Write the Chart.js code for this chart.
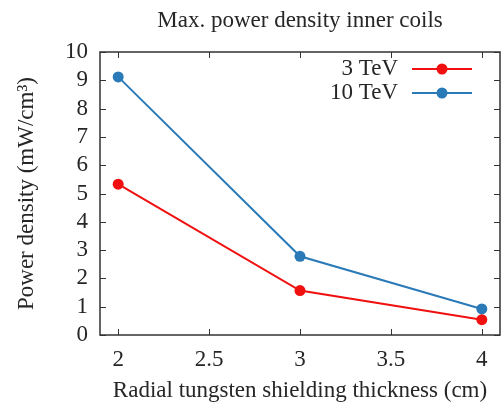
<!DOCTYPE html>
<html lang="en">
<head>
  <meta charset="UTF-8">
  <title>Max. power density inner coils</title>
  <script src="https://cdn.jsdelivr.net/npm/chart.js"></script>
  <style>
    html, body { margin: 0; padding: 0; background: #fff; }
    .chart-box { width: 501px; height: 405px; }
  </style>
</head>
<body>
<div class="chart-box">
  <canvas id="myChart" width="501" height="405"></canvas>
</div>
<script>
  // data
  const thickness = [2, 3, 4];
  const tev3 = [5.33, 1.57, 0.54];
  const tev10 = [9.12, 2.78, 0.92];
  const xTicks = [2, 2.5, 3, 3.5, 4];
  const yTicks = [0, 1, 2, 3, 4, 5, 6, 7, 8, 9, 10];
  const seriesNames = ['3 TeV', '10 TeV'];

  const textColor = '#262626';
  const serif = "'Liberation Serif', 'DejaVu Serif', serif";

  const toPoints = (ys) => thickness.map((x, i) => ({ x: x, y: ys[i] }));

  // gnuplot-like frame: inward ticks on all sides, title and legend
  const framePlugin = {
    id: 'frame',
    afterDraw(chart) {
      const c = chart.ctx;
      const a = chart.chartArea;
      const xs = chart.scales.x;
      const ys = chart.scales.y;
      const len = 6;
      c.save();
      c.strokeStyle = '#333';
      c.lineWidth = 1.5;
      c.strokeRect(a.left, a.top, a.right - a.left, a.bottom - a.top);
      c.lineWidth = 1;
      c.beginPath();
      xTicks.forEach(v => {
        const px = Math.round(xs.getPixelForValue(v)) + 0.5;
        c.moveTo(px, a.bottom); c.lineTo(px, a.bottom - len);
        c.moveTo(px, a.top); c.lineTo(px, a.top + len);
      });
      yTicks.forEach(v => {
        const py = Math.round(ys.getPixelForValue(v)) + 0.5;
        c.moveTo(a.left, py); c.lineTo(a.left + len, py);
        c.moveTo(a.right, py); c.lineTo(a.right - len, py);
      });
      c.stroke();

      // title centred over the plot area
      c.fillStyle = textColor;
      c.font = '23px ' + serif;
      c.textAlign = 'center';
      c.textBaseline = 'middle';
      c.fillText('Max. power density inner coils', (a.left + a.right) / 2, 21);

      // legend, text on the left and line sample on the right
      c.textAlign = 'right';
      chart.data.datasets.forEach((ds, i) => {
        const y = a.top + 17 + i * 24;
        c.fillStyle = textColor;
        c.fillText(ds.label, a.right - 102, y);
        c.strokeStyle = ds.borderColor;
        c.lineWidth = 2;
        c.beginPath();
        c.moveTo(a.right - 88, y);
        c.lineTo(a.right - 28, y);
        c.stroke();
        c.fillStyle = ds.borderColor;
        c.beginPath();
        c.arc(a.right - 58, y, 5.5, 0, Math.PI * 2);
        c.fill();
      });
      c.restore();
    }
  };

  const ctx = document.getElementById('myChart').getContext('2d');
  const myChart = new Chart(ctx, {
    type: 'line',
    data: {
      datasets: [
        {
          label: seriesNames[0],
          data: toPoints(tev3),
          borderColor: '#f01010',
          backgroundColor: '#f01010',
          borderWidth: 2,
          pointRadius: 5.5,
          pointBorderWidth: 0,
          fill: false
        },
        {
          label: seriesNames[1],
          data: toPoints(tev10),
          borderColor: '#2a7ab8',
          backgroundColor: '#2a7ab8',
          borderWidth: 2,
          pointRadius: 5.5,
          pointBorderWidth: 0,
          fill: false
        }
      ]
    },
    options: {
      responsive: false,
      animation: false,
      layout: { autoPadding: false, padding: { left: 0, right: 1, top: 52, bottom: 0 } },
      plugins: {
        legend: { display: false },
        title: { display: false },
        tooltip: { enabled: false }
      },
      scales: {
        x: {
          type: 'linear',
          min: 1.9,
          max: 4.1,
          afterBuildTicks: (s) => { s.ticks = xTicks.map(v => ({ value: v })); },
          afterFit: (s) => { s.height = 70; s.paddingLeft = 0; s.paddingRight = 0; },
          grid: { display: false, drawTicks: false },
          border: { display: false },
          ticks: {
            color: textColor,
            font: { family: serif, size: 23 },
            padding: 11,
            maxRotation: 0,
            autoSkip: false,
            callback: (v) => String(v)
          },
          title: {
            display: true,
            text: 'Radial tungsten shielding thickness (cm)',
            color: textColor,
            font: { family: serif, size: 23 },
            padding: { top: 0, bottom: 0 }
          }
        },
        y: {
          min: 0,
          max: 10,
          afterBuildTicks: (s) => { s.ticks = yTicks.map(v => ({ value: v })); },
          afterFit: (s) => { s.width = 100; s.paddingTop = 0; s.paddingBottom = 0; },
          grid: { display: false, drawTicks: false },
          border: { display: false },
          ticks: {
            color: textColor,
            font: { family: serif, size: 23 },
            padding: 12,
            autoSkip: false
          },
          title: {
            display: true,
            text: 'Power density (mW/cm\u00B3)',
            color: textColor,
            font: { family: serif, size: 23 },
            padding: { top: 13, bottom: 0 }
          }
        }
      }
    },
    plugins: [framePlugin]
  });
</script>
</body>
</html>
